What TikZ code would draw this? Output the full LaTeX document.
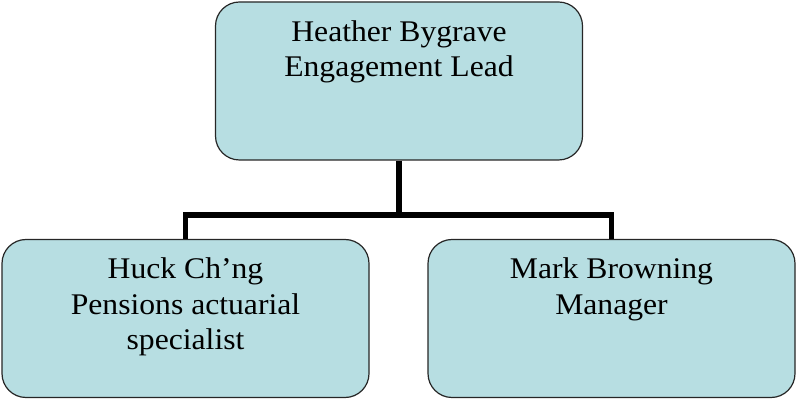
\documentclass[tikz,border=0pt]{standalone}
\usepackage{fontspec}
\setmainfont{Liberation Serif}[FakeStretch=1.055]
\usetikzlibrary{positioning}
\definecolor{boxfill}{RGB}{183,222,226}

\begin{document}
\begin{tikzpicture}[x=1pt,y=1pt]
\tikzset{box/.style={draw=black!85,line width=1.2pt,fill=boxfill,rounded corners=24pt,minimum width=367pt,minimum height=158pt,inner sep=0pt}}
\tikzset{nametext/.style={align=center,inner sep=0pt,font=\fontsize{30}{35.5}\selectfont}}
\tikzset{link/.style={line width=5.5pt}}
\useasboundingbox (0,0) rectangle (797,401);
% boxes
\node[box] (lead) at (399,320) {};
\node[box] (huck) at (185.5,82.5) {};
\node[box] (mark) at (611.5,82.5) {};
% names
\node[nametext,below=19pt of lead.north] (leadtxt) {Heather Bygrave\\Engagement Lead};
\node[nametext,below=19pt of huck.north] (hucktxt) {Huck Ch’ng\\Pensions actuarial\\specialist};
\node[nametext,below=19pt of mark.north] (marktxt) {Mark Browning\\Manager};
% connectors
\coordinate (fork) at (399,186);
\draw[link] (lead.south) -- (fork);
\draw[link] (huck.north) -- (huck.north |- fork) -- (mark.north |- fork) -- (mark.north);
\end{tikzpicture}
\end{document}
